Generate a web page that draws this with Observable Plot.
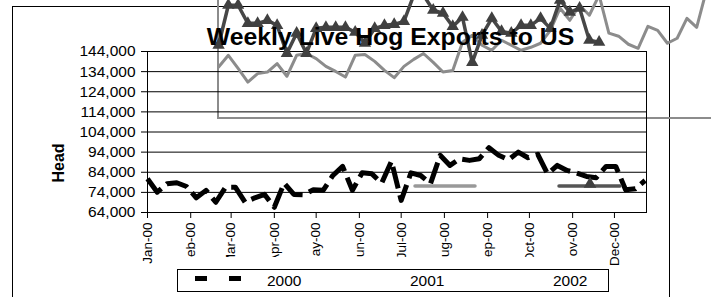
<!DOCTYPE html>
<html>
<head>
<meta charset="utf-8">
<script src="https://cdn.jsdelivr.net/npm/d3@7"></script>
<script src="https://cdn.jsdelivr.net/npm/@observablehq/plot@0.6"></script>
<style>
  html, body { margin: 0; padding: 0; background: #fff; }
  #wrap { position: relative; width: 711px; height: 297px; overflow: hidden; background: #fff;
          font-family: "Liberation Sans", Arial, sans-serif; }
  #outer { position: absolute; left: 12px; top: 6px; width: 656px; height: 320px; border: 1px solid #000; }
  #graybox { position: absolute; left: 217px; top: -10px; width: 600px; height: 127px;
             border-left: 2px solid #8c8c8c; border-bottom: 2px solid #8c8c8c; }
  #plot { position: absolute; left: 0; top: 0; }
  #overlay { position: absolute; left: 0; top: 0; }
  g[aria-label^="x-axis"] text { font-size: 13.5px; }
</style>
</head>
<body>
<div id="wrap">
  <div id="outer"></div>
  <div id="graybox"></div>
  <div id="plot"></div>
  <svg id="overlay" width="711" height="297"></svg>
</div>
<script>
// ---- data ----
const title = "Weekly Live Hog Exports to US";
const yLabel = "Head";
const monthLabels = ["Jan-00","Feb-00","Mar-00","Apr-00","May-00","Jun-00","Jul-00","Aug-00","Sep-00","Oct-00","Nov-00","Dec-00"];
const yTicks = [64000, 74000, 84000, 94000, 104000, 114000, 124000, 134000, 144000];
const seriesNames = ["2000", "2001", "2002"];

// weekly head counts, 2000 (drawn in the plot area)
const hogs2000 = [80800, 74100, 78300, 78800, 76900, 71300, 75000, 69100, 76600, 76600,
                  69100, 71300, 73000, 66600, 78600, 73000, 72800, 75300, 75000, 82400,
                  86900, 75000, 83700, 83200, 78600, 89500, 70000, 83700, 82400, 78300,
                  92400, 87400, 90700, 89900, 90700, 96200, 92400, 90200, 94000, 91200,
                  92900, 83200, 87400, 84900, 83600, 81900, 81300, 86900, 86900, 75300,
                  75800, 79900];
// 2001 and 2002 series as they appear (overflowing above the plot, shifted right)
const hogs2001 = [136300, 142100, 135600, 128800, 133000, 133800, 138000, 131700, 142100, 143000,
                  140500, 136600, 134100, 131300, 142100, 142500, 139100, 134600, 131000, 136600,
                  140100, 143000, 138600, 133800, 134600, 148600, 152100, 147100, 144600, 149600,
                  147100, 144600, 146100, 148100, 154500, 165500, 159500, 167000, 162000, 172000,
                  153100, 151600, 147600, 145600, 156500, 154500, 148100, 150600, 160500, 156000,
                  174400, 172000];
const hogs2002 = [147100, 167000, 167000, 158000, 158000, 159500, 157000, 143100, 153100, 143100,
                  155500, 156000, 156000, 156000, 153600, 148100, 155500, 157000, 157500, 159000,
                  172000, 172000, 164500, 163000, 156500, 161000, 138600, 152100, 160500, 154000,
                  153100, 157000, 157000, 160500, 155500, 169500, 163500, 165500, 149600, 148600];

// ---- build tables ----
const start2000 = new Date(Date.UTC(2000, 0, 1));
const startShifted = new Date(Date.UTC(2000, 1, 21));
const weekly = (start, values) => values.map((v, i) => ({date: d3.utcDay.offset(start, 7 * i), value: v}));
const d2000 = weekly(start2000, hogs2000);
const d2001 = weekly(startShifted, hogs2001);
const d2002 = weekly(startShifted, hogs2002);
const monthTicks = monthLabels.map((_, i) => new Date(Date.UTC(2000, i, 1)));

const chart = Plot.plot({
  width: 711,
  height: 297,
  marginLeft: 147,
  marginRight: 65,
  marginTop: 51,
  marginBottom: 85,
  style: {background: "transparent", fontFamily: "'Liberation Sans', Arial, sans-serif", fontSize: "15.5px", color: "#000", overflow: "visible"},
  x: {type: "utc", domain: [start2000, new Date(Date.UTC(2000, 11, 24))], ticks: monthTicks,
      tickFormat: d => monthLabels[d.getUTCMonth()], tickRotate: -90, tickSize: 6, tickPadding: 4, label: null},
  y: {domain: [64000, 144000], ticks: yTicks, tickFormat: d3.format(","), tickSize: 6, tickPadding: 6, label: null},
  marks: [
    Plot.ruleY(yTicks, {stroke: "#000", strokeWidth: 1}),
    Plot.frame({stroke: "#000"}),
    Plot.line(d2001, {x: "date", y: "value", stroke: "#8c8c8c", strokeWidth: 3}),
    Plot.line(d2002, {x: "date", y: "value", stroke: "#474747", strokeWidth: 3.5}),
    Plot.dot(d2002, {x: "date", y: "value", symbol: "triangle", r: 4.6, fill: "#404040"}),
    Plot.line(d2000, {x: "date", y: "value", stroke: "#000", strokeWidth: 5, strokeDasharray: "22,7", strokeLinecap: "butt"})
  ]
});
document.getElementById("plot").appendChild(chart);

// ---- overlay: title, axis title, legend ----
const ov = d3.select("#overlay");
ov.append("text").attr("x", 390.5).attr("y", 45).attr("text-anchor", "middle")
  .attr("font-family", "'Liberation Sans', Arial, sans-serif").attr("font-weight", "bold").attr("font-size", 24.8)
  .text(title);
ov.append("text").attr("transform", "translate(63.5,163) rotate(-90)").attr("text-anchor", "middle")
  .attr("font-family", "'Liberation Sans', Arial, sans-serif").attr("font-weight", "bold").attr("font-size", 16)
  .text(yLabel);

// legend keys for 2001 / 2002 (drawn displaced inside the plot, as in the original)
ov.append("line").attr("x1", 415).attr("x2", 475).attr("y1", 186).attr("y2", 186)
  .attr("stroke", "#999").attr("stroke-width", 3.5).attr("stroke-linecap", "round");
ov.append("line").attr("x1", 559).attr("x2", 620).attr("y1", 186).attr("y2", 186)
  .attr("stroke", "#555").attr("stroke-width", 3.5).attr("stroke-linecap", "round");
ov.append("path").attr("transform", "translate(590,184)")
  .attr("d", d3.symbol(d3.symbolTriangle, 70)()).attr("fill", "#404040");

// legend area (its white background also hides the ends of the month labels, as in the original)
const lg = ov.append("g");
lg.append("rect").attr("x", 165).attr("y", 257).attr("width", 444).attr("height", 13).attr("fill", "#fff");
lg.append("rect").attr("x", 177.5).attr("y", 269.5).attr("width", 431).attr("height", 22)
  .attr("fill", "#fff").attr("stroke", "#000");
lg.append("line").attr("x1", 195).attr("x2", 241).attr("y1", 278.5).attr("y2", 278.5)
  .attr("stroke", "#000").attr("stroke-width", 5).attr("stroke-dasharray", "12,22");
const lx = [267, 410, 553];
seriesNames.forEach((s, i) => {
  lg.append("text").attr("x", lx[i]).attr("y", 286)
    .attr("font-family", "'Liberation Sans', Arial, sans-serif").attr("font-size", 15.5).text(s);
});
</script>
</body>
</html>
